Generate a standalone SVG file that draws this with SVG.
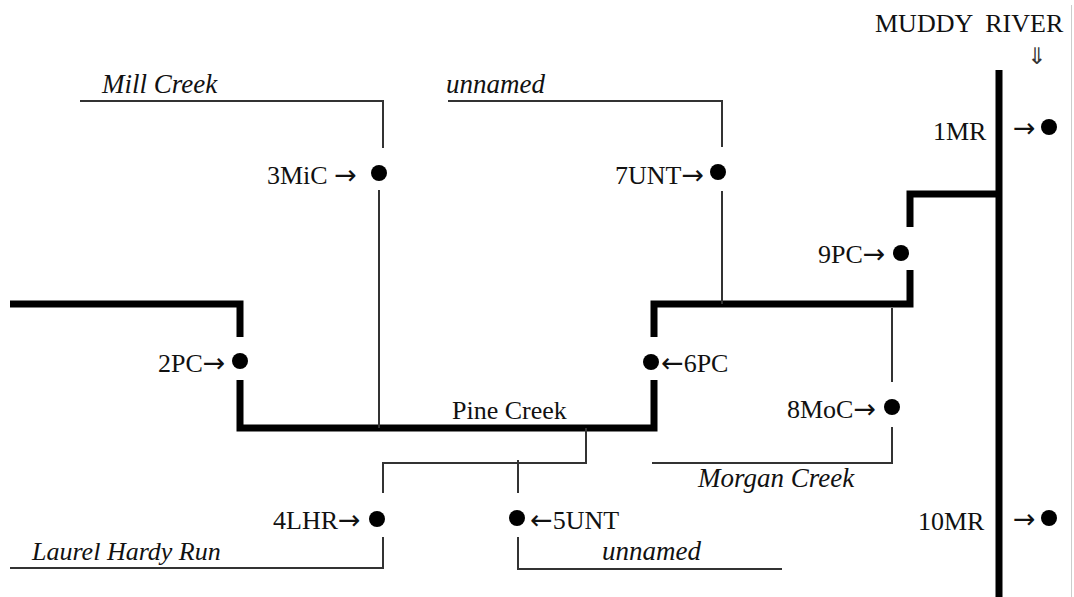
<svg xmlns="http://www.w3.org/2000/svg" width="1074" height="597" viewBox="0 0 1074 597">
<style>
.thick{fill:none;stroke:#000;stroke-width:7;stroke-linejoin:miter;stroke-linecap:butt}
.thin{fill:none;stroke:#333;stroke-width:2}
.dot{fill:#000}
text{font-family:"Liberation Serif","Times New Roman",serif;font-size:26px;fill:#111}
.it{font-style:italic;font-size:27px}
.ar{font-family:"DejaVu Sans",sans-serif;font-size:27px;font-weight:normal}
</style>
<rect width="1074" height="597" fill="#fff"/>
<line x1="1071.5" y1="5" x2="1071.5" y2="597" stroke="#ccc" stroke-width="1"/>
<g id="connectors">
  <path class="thick" d="M999,70 V597"/>
  <path class="thick" d="M10,304 H240 V337"/>
  <path class="thick" d="M240,380 V428 H654 V380"/>
  <path class="thick" d="M654,337 V304 H910 V270"/>
  <path class="thick" d="M910,227 V194 H999"/>
  <path class="thin" d="M80,101 H383 V148"/>
  <path class="thin" d="M379,190 V428"/>
  <path class="thin" d="M448,101 H722 V147"/>
  <path class="thin" d="M722,191 V304"/>
  <path class="thin" d="M892,308 V382"/>
  <path class="thin" d="M892,427 V463 H652"/>
  <path class="thin" d="M586,428 V463 H383 V493"/>
  <path class="thin" d="M518,460 V493"/>
  <path class="thin" d="M518,537 V569 H782"/>
  <path class="thin" d="M383,537 V568 H10"/>
</g>
<g id="muddy-river-label"><text x="875" y="32" xml:space="preserve">MUDDY  RIVER</text><text x="1037" y="64" text-anchor="middle" style="font-family:'DejaVu Sans',sans-serif;font-size:23px;fill:#333">⇓</text></g>
<g id="n1MR"><text x="933" y="140">1MR</text><text class="ar" x="1013" y="137">→</text><circle class="dot" cx="1049" cy="127" r="8"/></g>
<g id="n2PC"><text x="158" y="372">2PC<tspan class="ar">→</tspan></text><circle class="dot" cx="240" cy="361" r="8"/></g>
<g id="n3MiC"><text x="267" y="184" xml:space="preserve">3MiC <tspan class="ar">→</tspan></text><circle class="dot" cx="379" cy="173" r="8"/></g>
<g id="n4LHR"><text x="273" y="529">4LHR<tspan class="ar">→</tspan></text><circle class="dot" cx="377" cy="519" r="8"/></g>
<g id="n5UNT"><text x="530" y="529"><tspan class="ar">←</tspan>5UNT</text><circle class="dot" cx="517" cy="518" r="8"/></g>
<g id="n6PC"><text x="661" y="372"><tspan class="ar">←</tspan>6PC</text><circle class="dot" cx="651" cy="362" r="8"/></g>
<g id="n7UNT"><text x="615" y="184">7UNT<tspan class="ar">→</tspan></text><circle class="dot" cx="718" cy="172" r="8"/></g>
<g id="n8MoC"><text x="787" y="418">8MoC<tspan class="ar">→</tspan></text><circle class="dot" cx="892" cy="407" r="8"/></g>
<g id="n9PC"><text x="818" y="263">9PC<tspan class="ar">→</tspan></text><circle class="dot" cx="901" cy="253" r="8"/></g>
<g id="n10MR"><text x="918" y="530">10MR</text><text class="ar" x="1013" y="528">→</text><circle class="dot" cx="1049" cy="518" r="8"/></g>
<g id="labels">
  <text class="it" x="102" y="93">Mill Creek</text>
  <text class="it" x="446" y="93">unnamed</text>
  <text x="452" y="419">Pine Creek</text>
  <text class="it" x="698" y="487">Morgan Creek</text>
  <text class="it" x="32" y="560" style="font-size:26px">Laurel Hardy Run</text>
  <text class="it" x="602" y="560">unnamed</text>
</g>
</svg>
